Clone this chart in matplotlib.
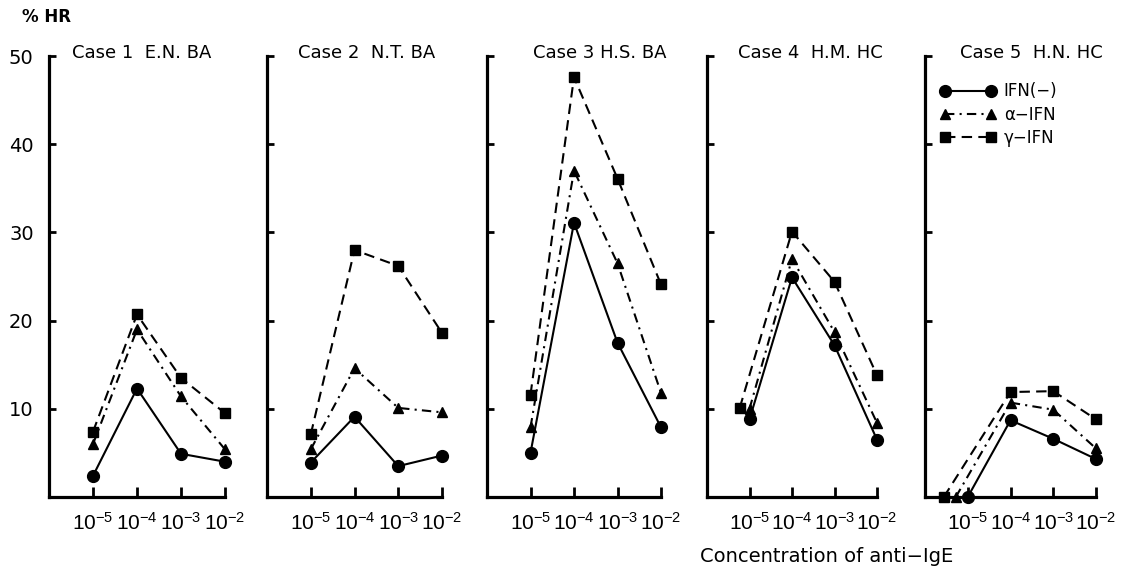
import matplotlib
matplotlib.use("Agg")
import matplotlib.pyplot as plt

# ---------------- data ----------------
case_titles = ["Case 1  E.N. BA", "Case 2  N.T. BA", "Case 3 H.S. BA",
               "Case 4  H.M. HC", "Case 5  H.N. HC"]
series_labels = ["IFN(\u2212)", "\u03b1\u2212IFN", "\u03b3\u2212IFN"]
log_conc = [-5, -4, -3, -2]                      # log10 of anti-IgE concentration
xtick_labels = [r"$10^{-5}$", r"$10^{-4}$", r"$10^{-3}$", r"$10^{-2}$"]
yticks = [10, 20, 30, 40, 50]

# x positions per case/series (points drawn slightly left where they overlap)
x_ifn = [log_conc, log_conc, log_conc, log_conc, [-5.0, -4, -3, -2]]
x_alpha = [log_conc, log_conc, log_conc, log_conc, [-5.28, -4, -3, -2]]
x_gamma = [log_conc, log_conc, log_conc, [-5.23, -4, -3, -2], [-5.56, -4, -3, -2]]

# % HR values
hr_ifn = [
    [2.4, 12.3, 4.9, 4.0],
    [3.9, 9.1, 3.5, 4.7],
    [5.0, 31.1, 17.5, 7.9],
    [8.8, 24.9, 17.2, 6.5],
    [0.0, 8.7, 6.6, 4.3],
]
hr_alpha = [
    [6.0, 19.0, 11.4, 5.4],
    [5.4, 14.6, 10.1, 9.6],
    [7.9, 37.0, 26.5, 11.8],
    [10.0, 27.0, 18.7, 8.4],
    [0.0, 10.7, 9.9, 5.5],
]
hr_gamma = [
    [7.4, 20.7, 13.5, 9.5],
    [7.1, 28.0, 26.2, 18.6],
    [11.6, 47.6, 36.1, 24.1],
    [10.1, 30.1, 24.4, 13.8],
    [0.0, 11.9, 12.0, 8.8],
]

# ---------------- layout ----------------
plt.rcParams['font.family'] = ['DejaVu Sans']
plt.rcParams['mathtext.fontset'] = 'custom'
plt.rcParams['mathtext.rm'] = 'Liberation Sans'
plt.rcParams['mathtext.it'] = 'Liberation Sans:italic'
plt.rcParams['mathtext.bf'] = 'Liberation Sans:bold'
plt.rcParams['mathtext.default'] = 'rm'

W, H = 1132, 576
fig = plt.figure(figsize=(W / 100, H / 100), dpi=100)

lefts = [49, 267, 487, 707, 925]
rights = [225, 442, 661, 877, 1096]
y0_px, y50_px = 497, 56
title_x = [72, 298, 533, 738, 960]

lw = 1.5
for i in range(5):
    ax = fig.add_axes([lefts[i] / W, (H - y0_px) / H,
                       (rights[i] - lefts[i]) / W, (y0_px - y50_px) / H])
    ax.set_xlim(-6, -2)
    ax.set_ylim(0, 50)
    for s in ("top", "right"):
        ax.spines[s].set_visible(False)
    for s in ("left", "bottom"):
        ax.spines[s].set_linewidth(2.3)
        ax.spines[s].set_capstyle("projecting")
    ax.set_xticks(log_conc)
    ax.set_xticklabels(xtick_labels, fontsize=15)
    ax.set_yticks(yticks)
    if i == 0:
        ax.set_yticklabels([str(v) for v in yticks], fontsize=14)
    else:
        ax.set_yticklabels([])
    ax.tick_params(axis="y", direction="in", length=5, width=2, pad=11)
    ax.tick_params(axis="x", direction="in", length=7, width=2, pad=11)

    l1, = ax.plot(x_ifn[i], hr_ifn[i], color="black", lw=lw, ls="-",
                  marker="o", ms=8.5, clip_on=False, zorder=5)
    l2, = ax.plot(x_alpha[i], hr_alpha[i], color="black", lw=lw,
                  ls=(0, (4.5, 2.5, 1, 2.5)), marker="^", ms=7.5,
                  clip_on=False, zorder=5)
    l3, = ax.plot(x_gamma[i], hr_gamma[i], color="black", lw=lw,
                  ls=(0, (5, 3)), marker="s", ms=7, clip_on=False, zorder=5)

    fig.text(title_x[i] / W, 1 - 53 / H, case_titles[i], fontsize=13,
             ha="left", va="center")

    if i == 4:
        ax.legend([l1, l2, l3], series_labels, loc="upper left",
                  bbox_to_anchor=(0.085, 0.94), frameon=False, numpoints=2,
                  handlelength=3.4, handletextpad=0.45, labelspacing=0.32,
                  fontsize=12, borderpad=0, borderaxespad=0)

fig.text(22 / W, 1 - 17 / H, "% HR", fontsize=12, fontweight="bold",
         ha="left", va="center")
fig.text(827 / W, 1 - 556 / H, "Concentration of anti\u2212IgE", fontsize=14,
         ha="center", va="center")

fig.savefig("out.png", dpi=100)
